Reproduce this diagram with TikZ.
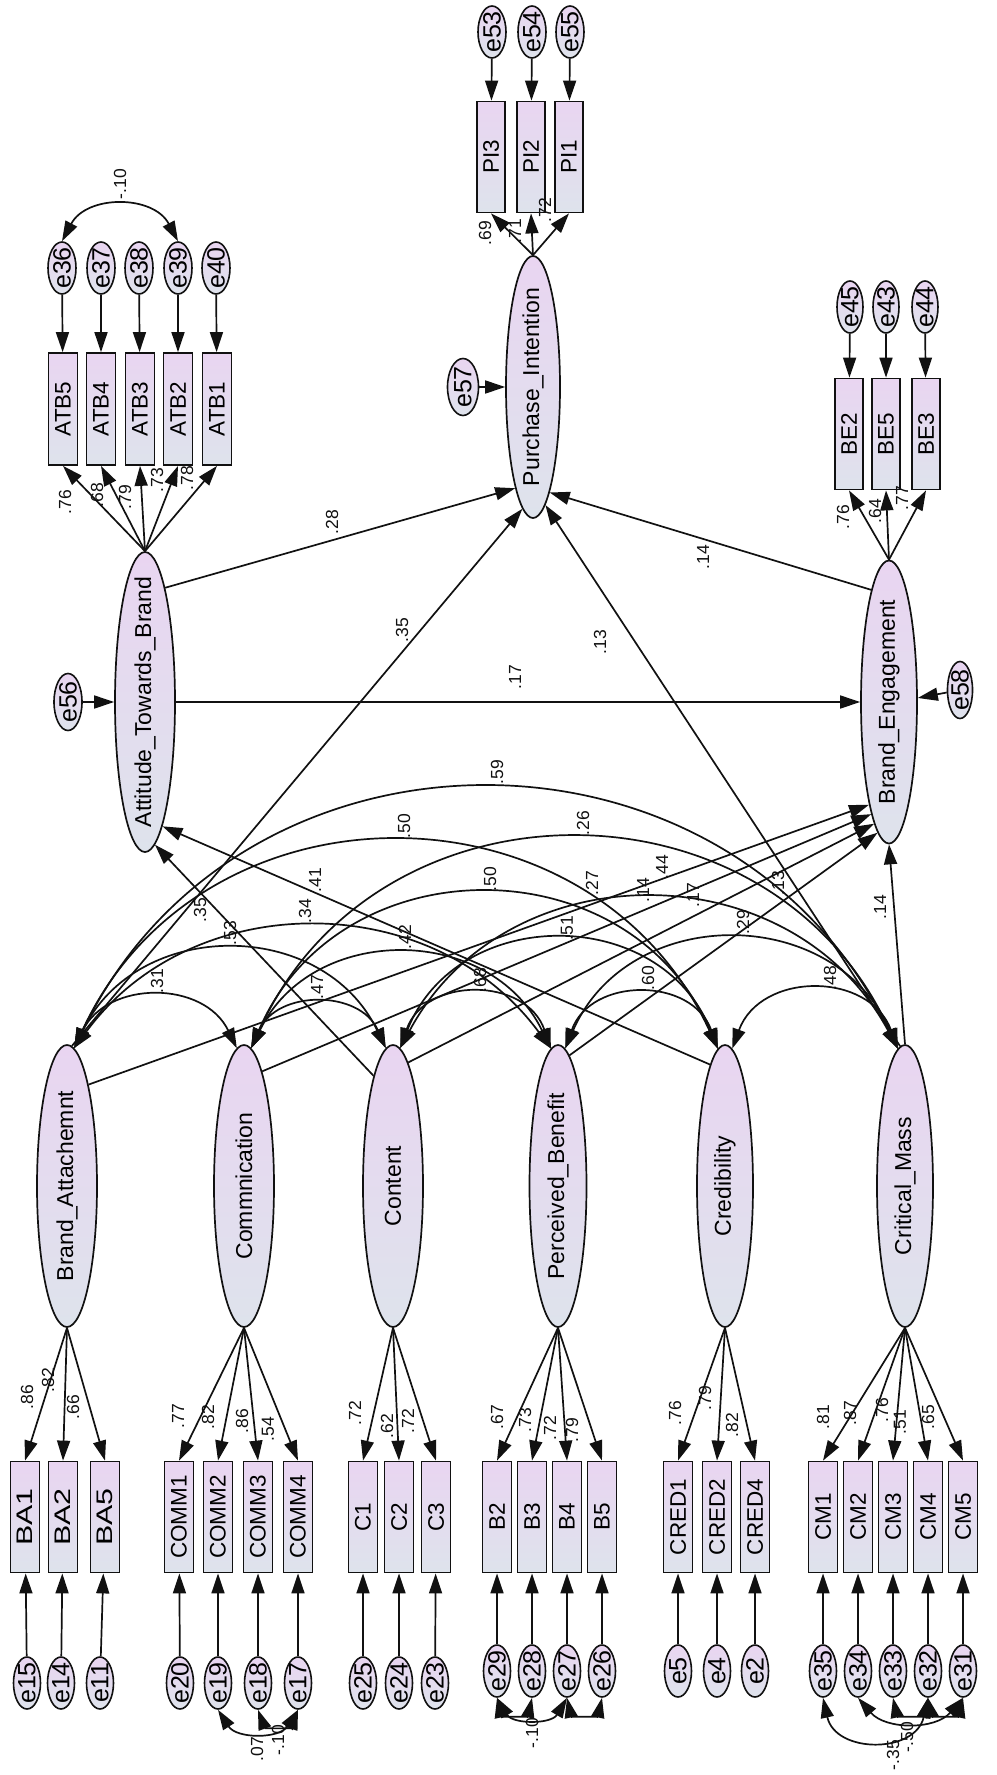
\documentclass[tikz,border=0pt]{standalone}
\usepackage{fontspec}
\setmainfont{Liberation Sans}
\usepackage{graphicx}
\usetikzlibrary{arrows.meta,shapes.geometric}

\definecolor{shadeTop}{HTML}{E9D5F1}
\definecolor{shadeBot}{HTML}{DEE3EC}
\definecolor{ink}{HTML}{111111}

% vertical text in a box of zero height, so it never enlarges its shape
\newcommand{\vtext}[1]{\rotatebox{90}{\makebox[0pt]{#1}}}
% rotated coefficient label
\newcommand{\wlabel}[4]{\node[coef] (#1) at (#2,#3) {#4};}

\begin{document}
\begin{tikzpicture}[x=1pt,y=-1pt,
  latent/.style={ellipse, draw=ink, line width=1.7pt, top color=shadeTop, bottom color=shadeBot,
    minimum width=60pt, minimum height=282pt, inner sep=0pt, font=\fontsize{23}{23}\selectfont},
  indic/.style={rectangle, draw=ink, line width=1.8pt, top color=shadeTop, bottom color=shadeBot,
    minimum width=29pt, minimum height=111pt, inner sep=0pt, font=\fontsize{22.5}{22.5}\selectfont},
  errterm/.style={ellipse, draw=ink, line width=1.6pt, top color=shadeTop, bottom color=shadeBot,
    minimum width=28pt, minimum height=52pt, inner sep=0pt, font=\fontsize{25}{25}\selectfont},
  regpath/.style={draw=ink, line width=1.7pt, -{Triangle[length=20pt,width=13pt]}},
  covpath/.style={draw=ink, line width=1.7pt, {Triangle[length=20pt,width=13pt]}-{Triangle[length=20pt,width=13pt]}},
  coef/.style={rotate=90, inner sep=0pt, text=ink, font=\fontsize{17.5}{17.5}\selectfont},
]
\fill[white] (0,0) rectangle (996,1775);
\useasboundingbox (0,0) rectangle (996,1775);

% ---------- Attitude towards brand block ----------
\foreach \n/\x in {e36/62,e37/101,e38/139,e39/178,e40/216}
  \node[errterm] (\n) at (\x,268) {\vtext{\n}};
\foreach \n/\x in {ATB5/63,ATB4/101,ATB3/140,ATB2/178,ATB1/217}
  \node[indic, minimum height=112pt] (\n) at (\x,409) {\vtext{\n}};
\node[latent, minimum height=300pt] (ATB) at (145,702) {\vtext{Attitude\_Towards\_Brand}};
\node[errterm, minimum height=57pt] (e56) at (68,702) {\vtext{e56}};

% ---------- Purchase intention block ----------
\foreach \n/\x in {e53/492,e54/532,e55/570}
  \node[errterm] (\n) at (\x,32) {\vtext{\n}};
\foreach \n/\x in {PI3/491,PI2/531,PI1/569}
  \node[indic, minimum width=28pt] (\n) at (\x,157) {\vtext{\n}};
\node[latent, minimum width=54pt, minimum height=262pt] (PI) at (533,387) {\vtext{Purchase\_Intention}};
\node[errterm, minimum width=31pt, minimum height=57pt] (e57) at (463,387) {\vtext{e57}};

% ---------- Brand engagement block ----------
\foreach \n/\x in {e45/850,e43/886,e44/925}
  \node[errterm, minimum width=26pt] (\n) at (\x,307) {\vtext{\n}};
\foreach \n/\x in {BE2/849,BE5/886,BE3/926}
  \node[indic, minimum width=28pt] (\n) at (\x,434) {\vtext{\n}};
\node[latent, minimum width=56pt, minimum height=283pt] (BE) at (889,702) {\vtext{Brand\_Engagement}};
\node[errterm, minimum width=25pt, minimum height=57pt] (e58) at (960,690) {\vtext{e58}};

% ---------- exogenous constructs ----------
\node[latent] (lBA) at (67,1186) {\vtext{Brand\_Attachemnt}};
\node[latent] (lCO) at (244,1186) {\vtext{Commnication}};
\node[latent] (lCT) at (393,1186) {\vtext{Content}};
\node[latent, minimum width=57pt] (lPB) at (558,1186) {\vtext{Perceived\_Benefit}};
\node[latent, minimum width=56pt] (lCR) at (725,1186) {\vtext{Credibility}};
\node[latent, minimum width=56pt] (lCM) at (905,1186) {\vtext{Critical\_Mass}};

% indicators of the exogenous constructs
\foreach \n/\x in {BA1/25,BA2/63,BA5/105}
  \node[indic] (\n) at (\x,1517) {\vtext{\scalebox{1.35}[1]{\n}}};
\foreach \n/\x in {COMM1/179,COMM2/218,COMM3/258,COMM4/298,
                   C1/363,C2/399,C3/436,
                   B2/497,B3/532,B4/567,B5/602,
                   CRED1/678,CRED2/717,CRED4/755,
                   CM1/823,CM2/858,CM3/893,CM4/928,CM5/963}
  \node[indic] (\n) at (\x,1517) {\vtext{\n}};

% their error terms
\foreach \n/\x in {e15/27,e14/61,e11/100,e20/180,e19/218,e18/258,e17/298,e25/363,e24/399,e23/435}
  \node[errterm, minimum width=27pt] (\n) at (\x,1683) {\vtext{\n}};
\foreach \n/\x in {e29/497,e28/532,e27/567,e26/602,e5/678,e4/717,e2/755,e35/823,e34/858,e33/893,e32/928,e31/963}
  \node[errterm, minimum width=27pt] (\n) at (\x,1671) {\vtext{\n}};

% ---------- measurement arrows ----------
\foreach \b in {ATB5,ATB4,ATB3,ATB2,ATB1} \draw[regpath] (ATB.north) -- (\b.south);
\foreach \e/\b in {e36/ATB5,e37/ATB4,e38/ATB3,e39/ATB2,e40/ATB1} \draw[regpath] (\e) -- (\b);
\foreach \b in {PI3,PI2,PI1} \draw[regpath] (PI.north) -- (\b.south);
\foreach \e/\b in {e53/PI3,e54/PI2,e55/PI1} \draw[regpath] (\e) -- (\b);
\foreach \b in {BE2,BE5,BE3} \draw[regpath] (BE.north) -- (\b.south);
\foreach \e/\b in {e45/BE2,e43/BE5,e44/BE3} \draw[regpath] (\e) -- (\b);

\foreach \b in {BA1,BA2,BA5} \draw[regpath] (lBA.south) -- (\b.north);
\foreach \b in {COMM1,COMM2,COMM3,COMM4} \draw[regpath] (lCO.south) -- (\b.north);
\foreach \b in {C1,C2,C3} \draw[regpath] (lCT.south) -- (\b.north);
\foreach \b in {B2,B3,B4,B5} \draw[regpath] (lPB.south) -- (\b.north);
\foreach \b in {CRED1,CRED2,CRED4} \draw[regpath] (lCR.south) -- (\b.north);
\foreach \b in {CM1,CM2,CM3,CM4,CM5} \draw[regpath] (lCM.south) -- (\b.north);
\foreach \e/\b in {e15/BA1,e14/BA2,e11/BA5,e20/COMM1,e19/COMM2,e18/COMM3,e17/COMM4,
                   e25/C1,e24/C2,e23/C3,e29/B2,e28/B3,e27/B4,e26/B5,
                   e5/CRED1,e4/CRED2,e2/CRED4,e35/CM1,e34/CM2,e33/CM3,e32/CM4,e31/CM5}
  \draw[regpath] (\e) -- (\b);

% disturbances
\draw[regpath] (e56) -- (ATB);
\draw[regpath] (e57) -- (PI);
\draw[regpath] (e58) -- (BE.8);

% ---------- structural paths ----------
\draw[regpath] (ATB.80) -- (PI.260);
\draw[regpath] (ATB.east) -- (BE.west);
\draw[regpath] (BE.99) -- (PI.279);
\draw[regpath] (lBA.88) -- (PI.265);
\draw[regpath] (lCM.92) -- (PI.276);
\draw[regpath] (lCM.north) -- (BE.south);
\draw[regpath] (lCT.100) -- (ATB.274);
\draw[regpath] (lCR.97) -- (ATB.278);
\draw[regpath] (lBA.78) -- (BE.259);
\draw[regpath] (lCO.81) -- (BE.261);
\draw[regpath] (lCT.83) -- (BE.263);
\draw[regpath] (lPB.85) -- (BE.265);

% ---------- covariances among the exogenous constructs ----------
\draw[covpath] (lBA.87) .. controls +(33.0,-68.0) and +(-33.0,-68.0) .. (lCO.93);
\draw[covpath] (lBA.87) .. controls +(63.0,-130.6) and +(-63.0,-130.6) .. (lCT.93);
\draw[covpath] (lBA.87) .. controls +(118.1,-161.3) and +(-118.1,-161.3) .. (lPB.93);
\draw[covpath] (lBA.87) .. controls +(126.9,-274.6) and +(-126.9,-274.6) .. (lCR.93);
\draw[covpath] (lBA.87) .. controls +(166.2,-345.3) and +(-166.2,-345.3) .. (lCM.93);
\draw[covpath] (lCO.87) .. controls +(25.9,-58.6) and +(-25.9,-58.6) .. (lCT.93);
\draw[covpath] (lCO.87) .. controls +(60.7,-125.2) and +(-60.7,-125.2) .. (lPB.93);
\draw[covpath] (lCO.87) .. controls +(88.0,-205.2) and +(-88.0,-205.2) .. (lCR.93);
\draw[covpath] (lCO.87) .. controls +(125.7,-278.5) and +(-125.7,-278.5) .. (lCM.93);
\draw[covpath] (lCT.87) .. controls +(24.6,-71.9) and +(-24.6,-71.9) .. (lPB.93);
\draw[covpath] (lCT.87) .. controls +(57.0,-144.1) and +(-57.0,-144.1) .. (lCR.93);
\draw[covpath] (lCT.87) .. controls +(106.6,-198.7) and +(-106.6,-198.7) .. (lCM.93);
\draw[covpath] (lPB.87) .. controls +(25.6,-72.0) and +(-25.6,-72.0) .. (lCR.93);
\draw[covpath] (lPB.87) .. controls +(63.4,-145.3) and +(-63.4,-145.3) .. (lCM.93);
\draw[covpath] (lCR.87) .. controls +(28.3,-77.4) and +(-28.3,-77.4) .. (lCM.93);

% ---------- covariances among error terms ----------
\draw[covpath] (e36.north) .. controls +(24.7,-46.6) and +(-24.7,-46.6) .. (e39.north);
\draw[covpath] (e19.south) .. controls +(18.6,29.2) and +(-18.6,29.2) .. (e17.south);
\draw[covpath] (e18.south) .. controls +(6.8,18.6) and +(-6.8,18.6) .. (e17.south);
\draw[covpath] (e29.south) .. controls +(4.1,18.9) and +(-4.1,18.9) .. (e28.south);
\draw[covpath] (e27.south) .. controls +(4.1,18.9) and +(-4.1,18.9) .. (e26.south);
\draw[covpath] (e29.south) .. controls +(15.7,26.6) and +(-15.7,26.6) .. (e27.south);
\draw[covpath] (e35.south) .. controls +(12.5,56.1) and +(-12.5,56.1) .. (e32.south);
\draw[covpath] (e34.south) .. controls +(27.7,32.1) and +(-27.7,32.1) .. (e31.south);
\draw[covpath] (e33.south) .. controls +(4.1,18.9) and +(-4.1,18.9) .. (e32.south);
\draw[covpath] (e32.south) .. controls +(4.1,18.9) and +(-4.1,18.9) .. (e31.south);

% ---------- coefficients ----------
% loadings, attitude / purchase / engagement
\wlabel{k1}{65}{502}{.76}
\wlabel{k2}{97}{495}{.68}
\wlabel{k3}{125}{497}{.79}
\wlabel{k4}{157}{480}{.73}
\wlabel{k5}{187}{478}{.78}
\wlabel{k6}{485}{233}{.69}
\wlabel{k7}{515}{231}{.71}
\wlabel{k8}{545}{210}{.72}
\wlabel{k9}{843}{517}{.76}
\wlabel{k10}{875}{511}{.64}
\wlabel{k11}{902}{498}{.77}
% structural weights
\wlabel{k12}{332}{522}{.28}
\wlabel{k13}{402}{630}{.35}
\wlabel{k14}{515}{677}{.17}
\wlabel{k15}{703}{557}{.14}
\wlabel{k16}{600}{642}{.13}
\wlabel{k17}{880}{907}{.14}
\wlabel{k18}{200}{910}{.35}
\wlabel{k19}{315}{880}{.41}
\wlabel{k20}{662}{867}{.44}
\wlabel{k21}{643}{890}{.14}
\wlabel{k22}{693}{895}{.17}
\wlabel{k23}{778}{883}{.13}
% correlations
\wlabel{k24}{157}{981}{.31}
\wlabel{k25}{230}{933}{.53}
\wlabel{k26}{305}{911}{.34}
\wlabel{k27}{404}{826}{.50}
\wlabel{k28}{497}{772}{.59}
\wlabel{k29}{317}{987}{.47}
\wlabel{k30}{405}{937}{.42}
\wlabel{k31}{490}{879}{.50}
\wlabel{k32}{583}{823}{.26}
\wlabel{k33}{480}{980}{.68}
\wlabel{k34}{567}{928}{.51}
\wlabel{k35}{592}{883}{.27}
\wlabel{k36}{648}{978}{.60}
\wlabel{k37}{743}{922}{.29}
\wlabel{k38}{830}{978}{.48}
% loadings, exogenous constructs
\wlabel{k39}{27}{1397}{.86}
\wlabel{k40}{48}{1380}{.82}
\wlabel{k41}{73}{1407}{.66}
\wlabel{k42}{178}{1416}{.77}
\wlabel{k43}{208}{1417}{.82}
\wlabel{k44}{242}{1421}{.86}
\wlabel{k45}{268}{1429}{.54}
\wlabel{k46}{355}{1413}{.72}
\wlabel{k47}{387}{1426}{.62}
\wlabel{k48}{408}{1421}{.72}
\wlabel{k49}{497}{1417}{.67}
\wlabel{k50}{525}{1420}{.73}
\wlabel{k51}{550}{1428}{.72}
\wlabel{k52}{572}{1430}{.79}
\wlabel{k53}{675}{1413}{.76}
\wlabel{k54}{705}{1398}{.79}
\wlabel{k55}{732}{1425}{.82}
\wlabel{k56}{823}{1417}{.81}
\wlabel{k57}{850}{1413}{.87}
\wlabel{k58}{882}{1410}{.76}
\wlabel{k59}{900}{1422}{.51}
\wlabel{k60}{928}{1417}{.65}
% error correlations
\wlabel{k61}{120}{184}{-.10}
\wlabel{k62}{257}{1749}{.07}
\wlabel{k63}{278}{1740}{-.10}
\wlabel{k64}{532}{1733}{-.10}
\wlabel{k65}{893}{1755}{-.35}
\wlabel{k66}{907}{1737}{-.50}
\end{tikzpicture}
\end{document}
